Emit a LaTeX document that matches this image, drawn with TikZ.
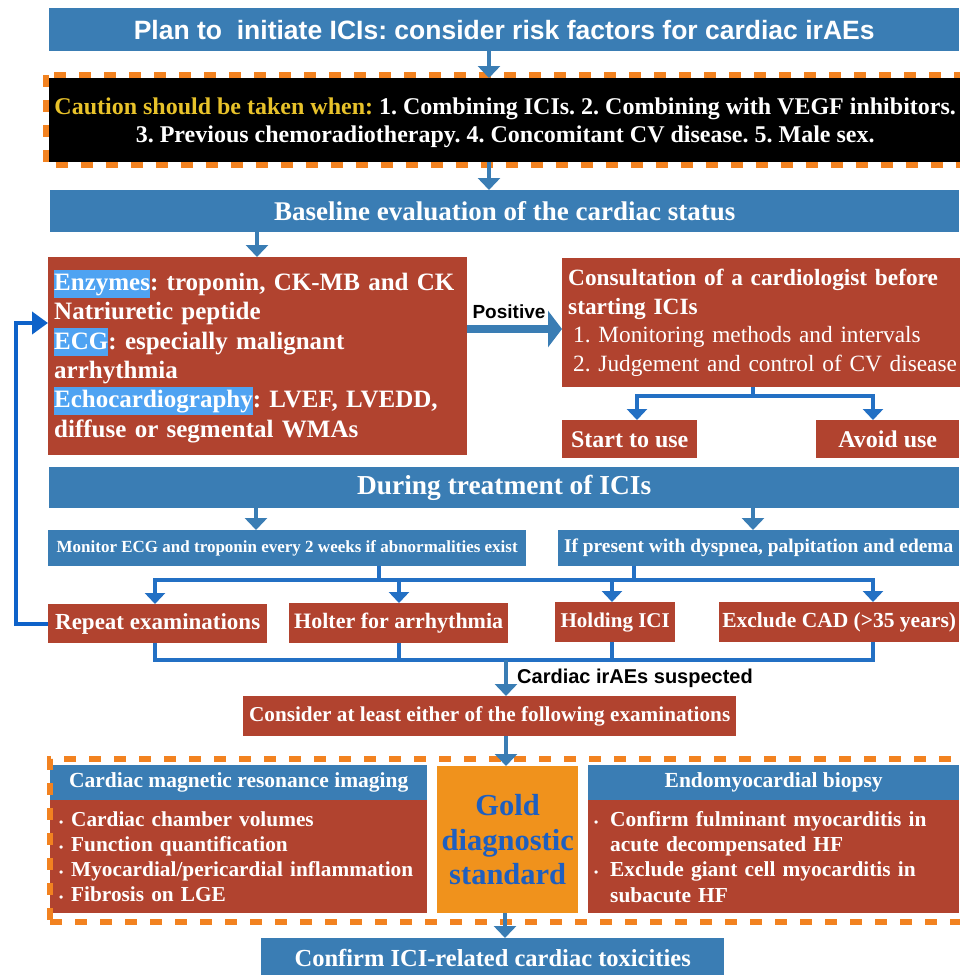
\documentclass[tikz,border=0pt]{standalone}
\usepackage{fontspec}
\setmainfont{Liberation Serif}
\setsansfont{Liberation Sans}
\usetikzlibrary{arrows.meta}
\definecolor{bblue}{HTML}{3A7DB4}
\definecolor{rred}{HTML}{B1432F}
\definecolor{dorange}{HTML}{F28220}
\definecolor{gold}{HTML}{F0921C}
\definecolor{hlblue}{HTML}{4FA3F2}
\definecolor{lblue}{HTML}{2370C4}
\definecolor{fblue}{HTML}{0E62C9}
\definecolor{goldtext}{HTML}{1E5FC0}
\definecolor{ctext}{HTML}{E8C22A}
\newcommand\hlt[1]{{\setlength{\fboxsep}{0pt}\colorbox{hlblue}{\rule[-7pt]{0pt}{28pt}#1}}}
\newcommand\bul{\makebox[12pt][l]{{\fontsize{12}{12}\selectfont\textbullet}}}
\begin{document}
\frenchspacing
\begin{tikzpicture}[x=1pt,y=-1pt,
  box/.style={anchor=north west, inner sep=0pt, text=white, font=\bfseries},
  bluebox/.style={box, fill=bblue},
  redbox/.style={box, fill=rred},
  orframe/.style={draw=dorange, line width=6pt, dash pattern=on 12pt off 13pt},
  arr/.style={draw=bblue, line width=4.5pt, -{Triangle[width=22pt,length=12pt]}},
  lnk/.style={draw=lblue, line width=4pt},
  larr/.style={draw=lblue, line width=4pt, -{Triangle[width=20pt,length=11pt]}}]
\useasboundingbox (0,0) rectangle (959,975);

% top
\node[bluebox, minimum width=910pt, minimum height=43pt,
  font=\sffamily\bfseries\fontsize{26.5}{28}\selectfont] (plan) at (49,8)
  {Plan to\ \ initiate ICIs: consider risk factors for cardiac irAEs};

\node[anchor=north west, inner sep=0pt, fill=black, minimum width=912pt, minimum height=84pt,
  text=white, align=center, font=\bfseries\fontsize{24}{28.5}\selectfont] (caution) at (49,78)
  {\rule{0pt}{22pt}\textcolor{ctext}{Caution should be taken when:} 1. Combining ICIs. 2. Combining with VEGF inhibitors.\\
   3. Previous chemoradiotherapy. 4. Concomitant CV disease. 5. Male sex.};
\draw[orframe] ([shift={(-3,-3)}]caution.north west) rectangle ([shift={(4,3)}]caution.south east);

\node[bluebox, minimum width=909pt, minimum height=42pt,
  font=\bfseries\fontsize{27}{29}\selectfont] (base) at (50,190)
  {Baseline evaluation of the cardiac status};

% enzymes
\node[redbox, minimum width=419pt, minimum height=198pt, text width=407pt,
  inner xsep=6pt, align=left, font=\bfseries\fontsize{25}{29.3}\selectfont] (enz) at (48,257)
  {\hlt{Enzymes}: troponin, CK-MB and CK\\
   Natriuretic peptide\\
   \hlt{ECG}: especially malignant\\
   arrhythmia\\
   \hlt{Echocardiography}: LVEF, LVEDD,\\
   diffuse or segmental WMAs};

\node[redbox, minimum width=397pt, minimum height=129pt, text width=393pt,
  inner xsep=6pt, align=left, font=\fontsize{23.3}{28.5}\selectfont] (cons) at (562,258)
  {\textbf{Consultation of a cardiologist before}\\
   \textbf{starting ICIs}\\
   \hspace*{5pt}1. Monitoring methods and intervals\\
   \hspace*{5pt}2. Judgement and control of CV disease};

\node[redbox, minimum width=135pt, minimum height=38pt,
  font=\bfseries\fontsize{24}{26}\selectfont] (start) at (562,420) {Start to use};
\node[redbox, minimum width=143pt, minimum height=38pt,
  font=\bfseries\fontsize{24}{26}\selectfont] (avoid) at (816,420) {Avoid use};

\node[anchor=center, inner sep=0pt, font=\sffamily\bfseries\fontsize{19}{21}\selectfont] (pos) at (509,312) {Positive};

% during
\node[bluebox, minimum width=910pt, minimum height=41pt,
  font=\bfseries\fontsize{27.4}{29}\selectfont] (dur) at (49,467) {During treatment of ICIs};

\node[bluebox, minimum width=478pt, minimum height=36pt,
  font=\bfseries\fontsize{17}{19}\selectfont] (mon) at (48,530)
  {Monitor ECG and troponin every 2 weeks if abnormalities exist};
\node[bluebox, minimum width=401pt, minimum height=36pt,
  font=\bfseries\fontsize{19.4}{21}\selectfont] (pres) at (558,530)
  {If present with dyspnea, palpitation and edema};

\node[redbox, minimum width=219pt, minimum height=39pt,
  font=\bfseries\fontsize{23}{25}\selectfont] (rep) at (48,604) {Repeat examinations};
\node[redbox, minimum width=219pt, minimum height=40pt,
  font=\bfseries\fontsize{22}{24}\selectfont] (hol) at (289,603) {Holter for arrhythmia};
\node[redbox, minimum width=120pt, minimum height=40pt,
  font=\bfseries\fontsize{21}{23}\selectfont] (hold) at (555,602) {Holding ICI};
\node[redbox, minimum width=240pt, minimum height=40pt,
  font=\bfseries\fontsize{21.5}{23}\selectfont] (excl) at (719,602) {Exclude CAD (>35 years)};

\node[anchor=west, inner sep=0pt, font=\sffamily\bfseries\fontsize{20}{22}\selectfont] (susp) at (517,678)
  {Cardiac irAEs suspected};

\node[redbox, minimum width=493pt, minimum height=40pt,
  font=\bfseries\fontsize{21.2}{24}\selectfont] (cons2) at (243,696)
  {Consider at least either of the following examinations};

% bottom section
\node[bluebox, minimum width=377pt, minimum height=35pt,
  font=\bfseries\fontsize{21.5}{23}\selectfont] (cmrh) at (50,765) {Cardiac magnetic resonance imaging};
\node[redbox, minimum width=377pt, minimum height=113pt, text width=359pt, inner xsep=8pt,
  align=left, font=\bfseries\fontsize{21.3}{25.3}\selectfont] (cmr) at (50,800)
  {\bul Cardiac chamber volumes\\
   \bul Function quantification\\
   \bul Myocardial/pericardial inflammation\\
   \bul Fibrosis on LGE};

\node[anchor=north west, inner sep=0pt, fill=gold, minimum width=141pt, minimum height=147pt,
  text=goldtext, align=center, font=\bfseries\fontsize{30.5}{34.5}\selectfont] (gold) at (437,766)
  {Gold\\diagnostic\\standard};

\node[bluebox, minimum width=371pt, minimum height=35pt,
  font=\bfseries\fontsize{21.5}{23}\selectfont] (emh) at (588,765) {Endomyocardial biopsy};
\node[redbox, minimum width=371pt, minimum height=113pt, text width=359pt, inner xsep=6pt,
  align=left, font=\bfseries\fontsize{21.4}{25.3}\selectfont] (emb) at (588,800)
  {\bul\hspace{4pt}Confirm fulminant myocarditis in\\
   \hspace*{16pt}acute decompensated HF\\
   \bul\hspace{4pt}Exclude giant cell myocarditis in\\
   \hspace*{16pt}subacute HF};

\node[anchor=north west, inner sep=0pt, orframe, minimum width=919pt, minimum height=163pt] (frame) at (47,756) {};

\node[bluebox, minimum width=463pt, minimum height=40pt,
  font=\bfseries\fontsize{24.5}{26}\selectfont] (conf) at (261,938)
  {Confirm ICI-related cardiac toxicities};

% connectors
\draw[arr] (plan.south -| 489,0) -- (caution.north -| 489,0);
\draw[arr] (caution.south -| 489,0) -- (base.north -| 489,0);
\draw[arr] (base.south -| 257,0) -- (enz.north -| 257,0);
\draw[draw=bblue, line width=8.5pt, -{Triangle[width=36pt,length=14pt]}] (enz.east |- 0,329) -- (cons.west |- 0,329);

\draw[lnk] (cons.south -| 753,0) -- (753,396);
\draw[larr] (637,396) -- (start.north -| 637,0);
\draw[larr] (873,396) -- (avoid.north -| 873,0);
\draw[lnk] (635,396) -- (875,396);

\draw[arr] (dur.south -| 256,0) -- (mon.north -| 256,0);
\draw[arr] (dur.south -| 753,0) -- (pres.north -| 753,0);

\draw[lnk] (mon.south -| 379,0) -- (379,580);
\draw[lnk] (pres.south -| 634,0) -- (634,580);
\draw[lnk] (153,580) -- (875,580);
\draw[larr] (155,580) -- (rep.north -| 155,0);
\draw[larr] (399,580) -- (hol.north -| 399,0);
\draw[larr] (612,580) -- (hold.north -| 612,0);
\draw[larr] (873,580) -- (excl.north -| 873,0);

\draw[lnk] (rep.south -| 155,0) -- (155,660);
\draw[lnk] (hol.south -| 399,0) -- (399,660);
\draw[lnk] (hold.south -| 612,0) -- (612,660);
\draw[lnk] (excl.south -| 873,0) -- (873,660);
\draw[lnk] (153,660) -- (875,660);
\draw[arr] (506,660) -- (cons2.north -| 506,0);

\draw[arr] (cons2.south -| 506,0) -- (gold.north -| 506,0);
\draw[arr] (gold.south -| 505,0) -- (conf.north -| 505,0);

\draw[draw=fblue, line width=4.5pt, -{Triangle[width=22pt,length=16pt]}]
  (rep.west |- 0,624) -- (16,624) -- (16,323) -- (enz.west |- 0,323);
\end{tikzpicture}
\end{document}
